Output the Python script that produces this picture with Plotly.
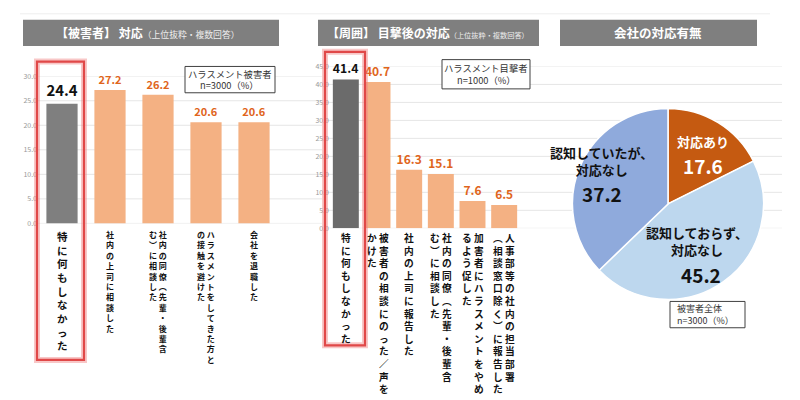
import plotly.graph_objects as go

# ---------------- data ----------------
victim_cats = [
    "特に何もしなかった",
    "社内の上司に相談した",
    "社内の同僚（先輩・後輩含\nむ）に相談した",
    "ハラスメントをしてきた方と\nの接触を避けた",
    "会社を退職した",
]
victim_vals = [24.4, 27.2, 26.2, 20.6, 20.6]

witness_cats = [
    "特に何もしなかった",
    "被害者の相談にのった／声を\nかけた",
    "社内の上司に報告した",
    "社内の同僚（先輩・後輩含\nむ）に相談した",
    "加害者にハラスメントをやめ\nるよう促した",
    "人事部等の社内の担当部署\n（相談窓口除く）に報告した",
]
witness_vals = [41.4, 40.7, 16.3, 15.1, 7.6, 6.5]

company_labels = ["対応あり", "認知しておらず、対応なし", "認知していたが、対応なし"]
company_vals = [17.6, 45.2, 37.2]

victim_ticks = [0, 5, 10, 15, 20, 25, 30]
witness_ticks = [0, 5, 10, 15, 20, 25, 30, 35, 40, 45]

titles = ["【被害者】 対応", "【周囲】 目撃後の対応", "会社の対応有無"]
title_sub = "（上位抜粋・複数回答）"
notes = [["ハラスメント被害者", "n=3000（%）"], ["ハラスメント目撃者", "n=1000（%）"], ["被害者全体", "n=3000（%）"]]

# ---------------- style ----------------
FONT = "Noto Sans CJK JP, Noto Sans, sans-serif"
GRAY = "#7F7F7F"
ORANGE = "#F4B183"
ORANGE_TXT = "#E0651C"
PIE_COLORS = ["#C55A11", "#BDD7EE", "#8FAADC"]
W, H = 800, 400

def px(x):
    return x / W

def py(y):
    return 1 - y / H

VMAP = {"（": "︵", "）": "︶"}

def vertical(label):
    cols = [[VMAP.get(ch, ch) for ch in col] for col in label.split("\n")]
    n = max(len(c) for c in cols)
    cols = [c + ["　"] * (n - len(c)) for c in cols]
    lines = [" ".join(c[i] for c in reversed(cols)) for i in range(n)]
    return "<br>".join(lines)

def ann(x, y, text, xanchor="center", yanchor="middle", **kw):
    d = dict(xref="paper", yref="paper", x=px(x), y=py(y), text=text, showarrow=False,
             xanchor=xanchor, yanchor=yanchor)
    d.update(kw)
    return d

vx = [c.replace("\n", "") for c in victim_cats]
wx = [c.replace("\n", "") for c in witness_cats]

fig = go.Figure()

fig.add_trace(go.Bar(
    x=vx, y=victim_vals, xaxis="x", yaxis="y", width=0.65,
    marker=dict(color=[GRAY] + [ORANGE] * (len(vx) - 1), line=dict(width=0)),
    text=victim_vals, texttemplate="<b>%{y:.1f}</b>", textposition="outside",
    textfont=dict(color=["#111111"] + [ORANGE_TXT] * (len(vx) - 1),
                  size=[16] + [11] * (len(vx) - 1), family=FONT),
    cliponaxis=False, hoverinfo="x+y",
))
fig.add_trace(go.Bar(
    x=wx, y=witness_vals, xaxis="x2", yaxis="y2", width=0.82,
    marker=dict(color=["#6B6B6B"] + [ORANGE] * (len(wx) - 1), line=dict(width=0)),
    text=witness_vals, texttemplate="<b>%{y:.1f}</b>", textposition="outside",
    textfont=dict(color=["#111111"] + [ORANGE_TXT] * (len(wx) - 1),
                  size=[13] + [12] * (len(wx) - 1), family=FONT),
    cliponaxis=False, hoverinfo="x+y",
))
fig.add_trace(go.Pie(
    values=company_vals, labels=company_labels, sort=False, direction="clockwise",
    rotation=0, marker=dict(colors=PIE_COLORS, line=dict(color="white", width=1.5)),
    textinfo="none", showlegend=False,
    domain=dict(x=[px(570), px(766)], y=[py(301), py(105)]),
))

shapes = []
annotations = []

# faint top line
shapes.append(dict(type="line", xref="paper", yref="paper", x0=px(20), x1=px(770),
                   y0=py(8), y1=py(8), line=dict(color="#EEEEEE", width=1)))

# gridlines
for v in victim_ticks:
    shapes.append(dict(type="line", xref="paper", yref="y", x0=px(36), x1=px(322), y0=v, y1=v,
                       line=dict(color="#E6E6E6", width=1), layer="below"))
for v in witness_ticks:
    shapes.append(dict(type="line", xref="paper", yref="y2", x0=px(325), x1=px(782), y0=v, y1=v,
                       line=dict(color="#E6E6E6", width=1), layer="below"))

# title bars
for (x0, x1), t in zip([(23, 279), (318, 539), (560, 757)], titles):
    shapes.append(dict(type="rect", xref="paper", yref="paper", x0=px(x0), x1=px(x1),
                       y0=py(41), y1=py(14), fillcolor=GRAY, line=dict(width=0)))
annotations.append(ann(148, 27.5,
                       f"<b>{titles[0]}</b><span style='font-size:8.8px;color:#EDEDED'>{title_sub}</span>",
                       font=dict(color="white", size=12, family=FONT)))
annotations.append(ann(428, 27.5,
                       f"<b>{titles[1]}</b><span style='font-size:7.2px;color:#EDEDED'>{title_sub}</span>",
                       font=dict(color="white", size=12, family=FONT)))
annotations.append(ann(658, 27.5, f"<b>{titles[2]}</b>",
                       font=dict(color="white", size=12.5, family=FONT)))

# red highlight boxes
for (x0, x1, y0, y1) in [(37, 84, 57, 363), (325, 365, 47, 348)]:
    shapes.append(dict(type="rect", xref="paper", yref="paper", x0=px(x0), x1=px(x1),
                       y0=py(y1), y1=py(y0), line=dict(color="rgba(240,130,130,0.45)", width=6)))
    shapes.append(dict(type="rect", xref="paper", yref="paper", x0=px(x0), x1=px(x1),
                       y0=py(y1), y1=py(y0), line=dict(color="#E04848", width=2.2)))

# note boxes (one annotation per line)
for (x0, x1, y0, y1), note, al in zip([(185, 275, 62, 89), (442, 530, 55, 85), (670, 745, 303, 330)],
                                       notes, ["center", "center", "left"]):
    shapes.append(dict(type="rect", xref="paper", yref="paper", x0=px(x0), x1=px(x1),
                       y0=py(y1), y1=py(y0), fillcolor="white", line=dict(color="#404040", width=1)))
    ym = (y0 + y1) / 2
    for k, line in enumerate(note):
        yy = ym - 6 + 12 * k
        if al == "center":
            annotations.append(ann((x0 + x1) / 2, yy, line,
                                   font=dict(size=9.3, color="#333333", family=FONT)))
        else:
            annotations.append(ann(x0 + 5, yy, line, xanchor="left",
                                   font=dict(size=9, color="#333333", family=FONT)))

# vertical category labels
for i, (xc, lab) in enumerate(zip(vx, victim_cats)):
    annotations.append(dict(xref="x", yref="paper", x=xc, y=py(227), xanchor="center", yanchor="top",
                            showarrow=False, text=vertical(lab), align="center",
                            font=dict(size=10.5 if i == 0 else 8, color="#111111", family=FONT,
                                      weight="bold")))
for xc, lab in zip(wx, witness_cats):
    annotations.append(dict(xref="x2", yref="paper", x=xc, y=py(229), xanchor="center", yanchor="top",
                            showarrow=False, text=vertical(lab), align="center",
                            font=dict(size=9.7, color="#111111", family=FONT, weight="bold")))

# pie labels
pie_pos = [((703, 139), (703, 164), "white"), ((697, 241), (701, 275), "#111111"),
           ((601, 159), (602, 192), "#111111")]
for lab, val, ((lx, ly), (nx, ny), col) in zip(company_labels, company_vals, pie_pos):
    t = lab.replace("、", "、<br>")
    annotations.append(ann(lx, ly, f"<b>{t}</b>", align="center",
                           font=dict(size=13, color=col, family=FONT)))
    annotations.append(ann(nx, ny, f"<b>{val:.1f}</b>",
                           font=dict(size=19, color=col, family=FONT)))

axis_common = dict(showgrid=False, zeroline=False, showline=False)
fig.update_layout(
    width=W, height=H, margin=dict(l=0, r=0, t=0, b=0),
    paper_bgcolor="white", plot_bgcolor="rgba(0,0,0,0)", showlegend=False,
    font=dict(family=FONT),
    xaxis=dict(domain=[px(38), px(278)], anchor="y", showticklabels=False, ticks="",
               range=[-0.5, len(vx) - 0.5], **axis_common),
    yaxis=dict(domain=[py(223), py(72)], anchor="x", range=[0, 30], tickvals=victim_ticks,
               tickformat=".1f", ticks="", tickfont=dict(size=7, color="#999999"), **axis_common),
    xaxis2=dict(domain=[px(330), px(520)], anchor="y2", showticklabels=False, ticks="",
                range=[-0.5, len(wx) - 0.5], **axis_common),
    yaxis2=dict(domain=[py(228), py(62)], anchor="x2", range=[0, 45], tickvals=witness_ticks,
                tickformat=".1f", ticks="", tickfont=dict(size=7, color="#999999"), **axis_common),
    shapes=shapes, annotations=annotations,
)

fig.write_html("out.html")
